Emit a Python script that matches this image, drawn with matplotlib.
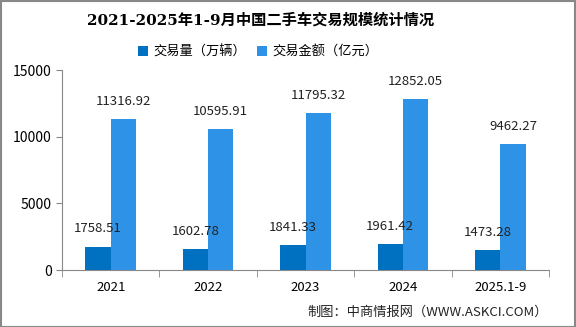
import matplotlib
matplotlib.use("Agg")
import matplotlib.pyplot as plt
import numpy as np

plt.rcParams['font.family'] = ['Noto Sans CJK SC', 'DejaVu Sans']

categories = ['2021', '2022', '2023', '2024', '2025.1-9']
volume = [1758.51, 1602.78, 1841.33, 1961.42, 1473.28]
amount = [11316.92, 10595.91, 11795.32, 12852.05, 9462.27]
series_names = ['交易量（万辆）', '交易金额（亿元）']
title = '2021-2025年1-9月中国二手车交易规模统计情况'
source = '制图：中商情报网（WWW.ASKCI.COM）'

fig = plt.figure(figsize=(5.76, 3.27), dpi=100)
ax = fig.add_axes([62/576, 1-270/327, 487/576, 200/327])

x = np.arange(len(categories))
w = 0.26
c1 = '#0070C0'
c2 = '#2E93E6'
b1 = ax.bar(x - w/2, volume, w, color=c1, label=series_names[0])
b2 = ax.bar(x + w/2, amount, w, color=c2, label=series_names[1])

for rect, v in zip(b1, volume):
    ax.annotate(f'{v:.2f}', (rect.get_x() + rect.get_width()/2, v), xytext=(0, 8),
                textcoords='offset points', ha='center', va='bottom', fontsize=9.5, color='#222222')
for rect, v in zip(b2, amount):
    ax.annotate(f'{v:.2f}', (rect.get_x() + rect.get_width()/2, v), xytext=(0, 8),
                textcoords='offset points', ha='center', va='bottom', fontsize=9.5, color='#222222')

ax.set_xlim(-0.5, len(categories) - 0.5)
ax.set_ylim(0, 15000)
ax.set_yticks([0, 5000, 10000, 15000])
ax.set_xticks(x)
ax.set_xticklabels(categories, fontsize=9.5)
ax.set_xticks(np.arange(len(categories) + 1) - 0.5, minor=True)
ax.tick_params(axis='x', which='major', length=0, pad=8)
ax.tick_params(axis='x', which='minor', length=5, color='#888888', direction='out')
ax.tick_params(axis='y', labelsize=10, length=4, color='#888888')
for s in ['top', 'right']:
    ax.spines[s].set_visible(False)
for s in ['left', 'bottom']:
    ax.spines[s].set_color('#888888')

fig.text(261/576, 1-20/327, title, ha='center', va='center', fontsize=11, fontweight='bold',
         family=['DejaVu Serif', 'Noto Sans CJK SC'])
fig.legend(handles=[b1, b2], labels=series_names, loc='center', bbox_to_anchor=(258/576, 1-52/327),
           ncol=2, frameon=False, fontsize=9.5, handlelength=0.8, handleheight=0.8,
           handletextpad=0.4, columnspacing=0.8)
fig.text(548/576, 1-312/327, source, ha='right', va='center', fontsize=9.5, color='#222222')

border = plt.Rectangle((0.001, 0.001), 0.997, 0.997, transform=fig.transFigure, fill=False,
                       edgecolor='#888888', linewidth=1.5)
fig.patches.append(border)

fig.savefig('out.png', dpi=100)
